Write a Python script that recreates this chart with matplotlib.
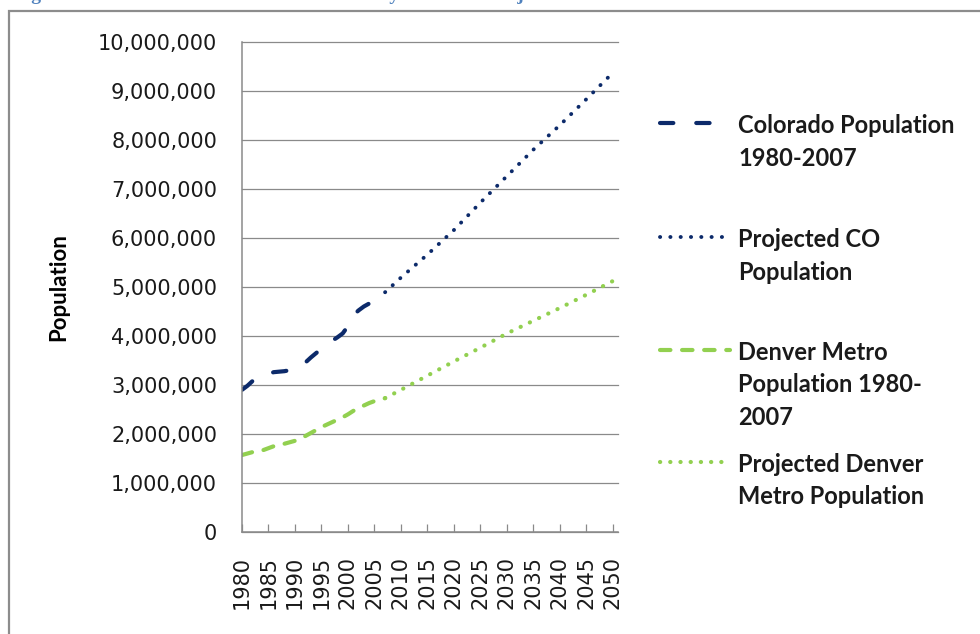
import matplotlib.pyplot as plt
import numpy as np
from matplotlib.lines import Line2D
from matplotlib.patches import Rectangle
from matplotlib.ticker import FuncFormatter

# population in millions
co_years = [1980, 1981, 1982, 1983, 1984, 1985, 1986, 1987, 1988, 1989,
            1990, 1991, 1992, 1993, 1994, 1995, 1996, 1997, 1998, 1999,
            2000, 2001, 2002, 2003, 2004, 2005, 2006, 2007]
co_pop = [2.90, 2.98, 3.08, 3.15, 3.20, 3.23, 3.26, 3.27, 3.28, 3.30,
          3.32, 3.38, 3.46, 3.56, 3.65, 3.74, 3.83, 3.90, 3.97, 4.05,
          4.20, 4.42, 4.52, 4.60, 4.66, 4.72, 4.80, 4.89]
denver_pop = [1.57, 1.60, 1.63, 1.65, 1.67, 1.71, 1.75, 1.78, 1.80, 1.83,
              1.86, 1.90, 1.96, 2.02, 2.08, 2.14, 2.19, 2.24, 2.29, 2.34,
              2.40, 2.47, 2.53, 2.58, 2.63, 2.67, 2.70, 2.73]

proj_years = [2007, 2010, 2015, 2020, 2025, 2030, 2035, 2040, 2045, 2050]
co_proj = [4.89, 5.19, 5.66, 6.16, 6.72, 7.26, 7.80, 8.30, 8.83, 9.37]
denver_proj = [2.73, 2.90, 3.19, 3.48, 3.76, 4.05, 4.31, 4.57, 4.84, 5.12]

labels = ["Colorado Population\n1980-2007",
          "Projected CO\nPopulation",
          "Denver Metro\nPopulation 1980-\n2007",
          "Projected Denver\nMetro Population"]

NAVY = "#0c2a6a"
GREEN = "#92d050"
GRID = "#8a8a8a"

W, H = 980, 634


def fx(x):
    return x / W


def fy(y):
    return 1 - y / H


fig = plt.figure(figsize=(9.8, 6.34), dpi=100)
ax = fig.add_axes([fx(242), fy(532), (618 - 242) / W, (532 - 41.7) / H])

styles = [
    dict(color=NAVY, lw=3, dashes=(3.2, 5.5), dash_capstyle="round"),
    dict(color=NAVY, lw=2.8, dashes=(0.05, 2.6), dash_capstyle="round"),
    dict(color=GREEN, lw=3, dashes=(2.5, 2.8), dash_capstyle="round"),
    dict(color=GREEN, lw=3.0, dashes=(0.05, 2.4), dash_capstyle="round"),
]

ax.plot(co_years, np.array(co_pop) * 1e6, **styles[0])
ax.plot(proj_years, np.array(co_proj) * 1e6, **styles[1])
ax.plot(co_years, np.array(denver_pop) * 1e6, **styles[2])
ax.plot(proj_years, np.array(denver_proj) * 1e6, **styles[3])

ax.set_xlim(1980, 2050.95)
ax.set_ylim(0, 10e6)
ax.set_xticks(range(1980, 2051, 5))
ax.set_yticks(np.arange(0, 10e6 + 1, 1e6))
ax.yaxis.set_major_formatter(FuncFormatter(lambda v, p: f"{v:,.0f}"))
ax.grid(axis="y", color=GRID, lw=0.9)
for gl in ax.get_ygridlines():
    gl.set_clip_on(False)
ax.set_axisbelow(True)
for s in ["top", "right"]:
    ax.spines[s].set_visible(False)
for s in ["left", "bottom"]:
    ax.spines[s].set_color(GRID)
    ax.spines[s].set_linewidth(1.1)
ax.tick_params(axis="x", direction="in", length=6, color=GRID, width=0.9,
               pad=17, labelsize=15, labelrotation=90, labelcolor="#1a1a1a")
ax.tick_params(axis="y", length=0, pad=18, labelsize=15, labelcolor="#1a1a1a")

ax.set_ylabel("Population", fontsize=16, fontweight="bold", family="Lato",
              va="center")
ax.yaxis.set_label_coords((58.5 - 242) / (618 - 242), 0.5)

# legend drawn by hand so each entry sits in its own fixed slot
for i, (lab, st) in enumerate(zip(labels, styles)):
    yc = [123, 237, 350, 462][i]
    fig.add_artist(Line2D([fx(660), fx(730)], [fy(yc), fy(yc)],
                          transform=fig.transFigure, **st))
    fig.text(fx(738), fy(yc - 9), lab, ha="left", va="top", fontsize=17,
             fontweight="bold", family="Lato", color="#1a1a1a",
             linespacing=1.5)

# page frame and clipped caption above it
fig.add_artist(Rectangle((fx(9), -0.1), 1.2, fy(11) + 0.1,
                         transform=fig.transFigure, fill=False,
                         edgecolor="#8c8c8c", lw=1.6))
fig.text(fx(14), 1 + 0.5 / H,
         "Figure 2: Colorado and Denver Metro History and State Projections",
         ha="left", va="baseline", fontsize=14, fontweight="bold",
         family="Liberation Serif", color="#4f81bd")

fig.savefig("out.png", dpi=100)
